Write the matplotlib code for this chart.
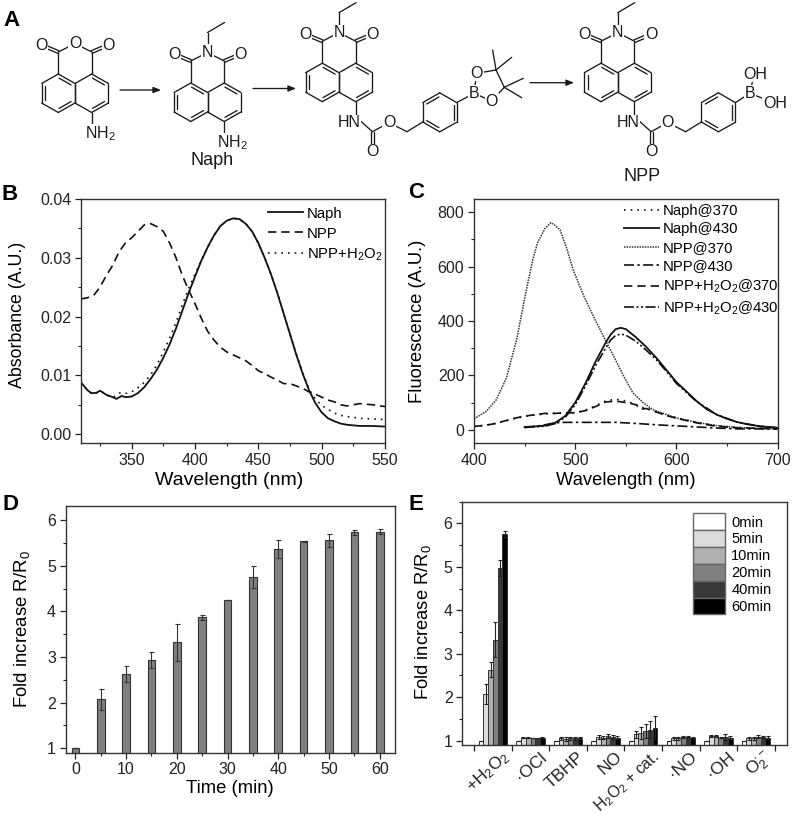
import matplotlib
matplotlib.use("Agg")
import matplotlib.pyplot as plt
import numpy as np
from matplotlib.transforms import Affine2D, ScaledTranslation
from matplotlib.ticker import MultipleLocator
from matplotlib.patches import Patch

plt.rcParams['font.family'] = ['Liberation Sans', 'DejaVu Sans']
plt.rcParams['mathtext.default'] = 'regular'
plt.rcParams['axes.linewidth'] = 1.0
plt.rcParams['axes.edgecolor'] = '#333333'
plt.rcParams['xtick.color'] = '#222222'
plt.rcParams['ytick.color'] = '#222222'

W, H = 800, 817

# panel B
wl_b_naph = [310, 315, 318, 322, 325, 330, 335, 338, 342, 345, 350, 355, 360, 365, 370, 375, 380, 385, 390, 395, 400,
             405, 410, 415, 420, 425, 430, 435, 440, 445, 450, 455, 460, 465, 470, 475, 480, 485, 490, 495, 500, 505,
             510, 515, 520, 530, 540, 550]
abs_naph = [.0088, .0075, .0070, .0070, .0074, .0067, .0063, .0060, .0065, .0063, .0064, .0070, .0080, .0094, .0110,
            .0130, .0153, .0180, .0210, .0240, .0268, .0295, .0318, .0338, .0354, .0363, .0367, .0366, .0358, .0345,
            .0325, .0300, .0272, .0240, .0205, .0170, .0135, .0103, .0075, .0053, .0037, .0027, .0022, .0018, .0016,
            .0014, .0014, .0013]
wl_b_npp = [310, 315, 320, 325, 330, 335, 340, 345, 350, 355, 360, 365, 370, 375, 380, 385, 390, 395, 400, 405, 410,
            415, 420, 425, 430, 435, 440, 445, 450, 455, 460, 465, 470, 475, 480, 485, 490, 495, 500, 505, 510, 515,
            520, 525, 530, 535, 540, 550]
abs_npp = [.0230, .0232, .0236, .0250, .0270, .0287, .0310, .0325, .0334, .0345, .0356, .0358, .0353, .0345, .0325,
           .0300, .0270, .0245, .0222, .0197, .0175, .0160, .0148, .0140, .0135, .0130, .0125, .0117, .0108, .0103,
           .0097, .0092, .0086, .0086, .0082, .0078, .0072, .0068, .0063, .0058, .0055, .0050, .0048, .0050, .0052,
           .0051, .0050, .0047]
wl_b_h2o2 = [310, 315, 318, 322, 325, 330, 335, 340, 345, 350, 355, 360, 365, 370, 375, 380, 385, 390, 395, 400, 405,
             410, 415, 420, 425, 430, 435, 440, 445, 450, 455, 460, 465, 470, 475, 480, 485, 490, 495, 500, 505, 510,
             515, 520, 530, 540, 550]
abs_h2o2 = [.0088, .0075, .0070, .0070, .0074, .0067, .0062, .0070, .0069, .0072, .0079, .0088, .0101, .0118, .0140,
            .0163, .0190, .0220, .0248, .0272, .0296, .0318, .0338, .0354, .0363, .0367, .0366, .0358, .0345, .0325,
            .0300, .0272, .0240, .0205, .0170, .0136, .0105, .0076, .0060, .0049, .0042, .0036, .0032, .0030, .0027,
            .0026, .0025]

# panel C
wl_c_npp370 = [400, 412, 422, 432, 442, 452, 458, 463, 470, 476, 480, 485, 491, 498, 508, 518, 528, 538, 548, 557, 567,
               577, 600, 620, 640, 660, 680, 700]
fl_npp370 = [40, 67, 110, 190, 330, 520, 625, 690, 740, 762, 752, 735, 674, 588, 496, 417, 343, 270, 196, 135, 100, 73,
             43, 27, 15, 8, 5, 3]
wl_c_naph430 = [450, 460, 470, 480, 490, 500, 510, 520, 530, 535, 540, 545, 550, 560, 570, 580, 590, 600, 610, 620, 630,
                640, 650, 660, 670, 680, 690, 700]
fl_naph430 = [10, 12, 15, 25, 50, 100, 170, 250, 320, 350, 370, 375, 370, 340, 305, 265, 220, 175, 140, 105, 75, 55, 40,
              28, 20, 14, 10, 7]
wl_c_h2o2430 = [450, 470, 480, 490, 500, 510, 520, 530, 535, 540, 545, 550, 560, 570, 580, 590, 600, 620, 640, 660, 680,
                700]
fl_h2o2430 = [8, 13, 22, 45, 92, 160, 235, 300, 330, 347, 352, 348, 325, 293, 258, 215, 170, 103, 55, 28, 14, 7]
wl_c_npp430 = [450, 460, 470, 480, 490, 500, 520, 540, 560, 580, 600, 620, 640, 660, 680, 700]
fl_npp430 = [8, 12, 18, 25, 27, 27, 27, 27, 23, 18, 14, 10, 6, 3, 3, 2]
wl_c_370 = [400, 410, 420, 430, 440, 450, 460, 470, 480, 490, 500, 510, 520, 530, 540, 550, 560, 565, 570, 580, 590,
            600, 620, 640, 660, 680, 700]
fl_h2o2370 = [12, 15, 22, 32, 42, 50, 55, 60, 60, 62, 62, 70, 85, 102, 105, 100, 92, 75, 78, 65, 52, 42, 25, 12, 7, 5, 4]
fl_naph370 = [13, 16, 22, 31, 41, 49, 54, 58, 60, 62, 63, 72, 88, 106, 112, 106, 92, 82, 80, 66, 54, 44, 27, 14, 8, 5, 4]

# panel D
time_min = [0, 5, 10, 15, 20, 25, 30, 35, 40, 45, 50, 55, 60]
fold = [1.0, 2.07, 2.63, 2.93, 3.32, 3.87, 4.25, 4.75, 5.37, 5.54, 5.56, 5.73, 5.75]
fold_err = [0, .23, .17, .17, .40, .06, 0, .24, .19, .01, .14, .06, .06]

# panel E
species = ['+H$_2$O$_2$', '·OCl', 'TBHP', 'NO', 'H$_2$O$_2$ + cat.', '·NO', '·OH', r'O$_2^{\cdot -}$']
times = ['0min', '5min', '10min', '20min', '40min', '60min']
vals_0 = [1, 1, 1, 1, 1, 1, 1, 1]
vals_5 = [2.07, 1.07, 1.05, 1.08, 1.15, 1.05, 1.10, 1.05]
vals_10 = [2.63, 1.07, 1.04, 1.07, 1.17, 1.05, 1.10, 1.05]
vals_20 = [3.32, 1.06, 1.05, 1.10, 1.22, 1.08, 1.07, 1.09]
vals_40 = [4.97, 1.06, 1.05, 1.08, 1.25, 1.08, 1.09, 1.08]
vals_60 = [5.75, 1.07, 1.06, 1.07, 1.30, 1.07, 1.07, 1.07]
errs_0 = [0, 0, 0, 0, 0, 0, 0, 0]
errs_5 = [.23, .01, .04, .04, .08, .04, .02, .04]
errs_10 = [.17, .01, .04, .04, .14, .04, .02, .04]
errs_20 = [.40, .01, .04, .05, .17, .03, .02, .03]
errs_40 = [.18, .01, .04, .04, .20, .03, .07, .03]
errs_60 = [.07, .01, .02, .03, .26, .02, .03, .03]
colors_e = ['#ffffff', '#dcdcdc', '#b0b0b0', '#808080', '#383838', '#000000']

fig = plt.figure(figsize=(W / 100, H / 100), dpi=100)
pix = Affine2D().scale(1 / W, -1 / H).translate(0, 1) + fig.transFigure


def panel(l, t, r, b):
    return fig.add_axes([l / W, 1 - b / H, (r - l) / W, (b - t) / H])


def style(ax, xlabel, ylabel, xl_pos, yl_pos, xl_size=14, yl_size=13):
    ax.tick_params(which='major', direction='out', length=4, width=0.9, labelsize=11.5, pad=3)
    ax.tick_params(which='minor', direction='out', length=2.2, width=0.8)
    ax.set_xlabel(xlabel, fontsize=xl_size, va='center')
    ax.set_ylabel(ylabel, fontsize=yl_size, va='center')
    ax.xaxis.set_label_coords(xl_pos[0], xl_pos[1], transform=pix)
    ax.yaxis.set_label_coords(yl_pos[0], yl_pos[1], transform=pix)


# B
ax = panel(81, 199, 385, 443)
ax.plot(wl_b_naph, abs_naph, color='#111111', lw=1.3, label='Naph')
ax.plot(wl_b_npp, abs_npp, color='#111111', lw=1.2, ls=(0, (5, 3)), label='NPP')
ax.plot(wl_b_h2o2, abs_h2o2, color='#111111', lw=1.2, ls=(0, (1, 3)), label='NPP+H$_2$O$_2$')
ax.set_xlim(310, 550)
ax.set_ylim(-0.0015, 0.04)
ax.set_xticks([350, 400, 450, 500, 550])
ax.set_yticks([0, .01, .02, .03, .04])
ax.set_yticklabels(['0.00', '0.01', '0.02', '0.03', '0.04'])
ax.xaxis.set_minor_locator(MultipleLocator(25))
ax.yaxis.set_minor_locator(MultipleLocator(.005))
style(ax, 'Wavelength (nm)', 'Absorbance (A.U.)', (229, 481), (18, 315), 14, 12.8)
ax.legend(loc='upper left', bbox_to_anchor=(0.615, 0.969), frameon=False, fontsize=10.7, handlelength=2.35,
          handletextpad=0.25, labelspacing=0.4, borderpad=0, borderaxespad=0)

# C
ax = panel(474, 199, 777.7, 443)
ax.plot(wl_c_370, fl_naph370, color='#111111', lw=1.2, ls=(0, (1, 3)), label='Naph@370')
ax.plot(wl_c_naph430, fl_naph430, color='#111111', lw=1.3, label='Naph@430')
ax.plot(wl_c_npp370, fl_npp370, color='#333333', lw=1.1, ls=(0, (1, 0.7)), label='NPP@370')
ax.plot(wl_c_npp430, fl_npp430, color='#111111', lw=1.2, ls=(0, (6, 2, 1.5, 2)), label='NPP@430')
ax.plot(wl_c_370, fl_h2o2370, color='#111111', lw=1.2, ls=(0, (5, 3)), label='NPP+H$_2$O$_2$@370')
ax.plot(wl_c_h2o2430, fl_h2o2430, color='#111111', lw=1.2, ls=(0, (6, 1.5, 1.2, 1.5, 1.2, 1.5)),
        label='NPP+H$_2$O$_2$@430')
ax.set_xlim(400, 700)
ax.set_ylim(-49, 849)
ax.set_xticks([400, 500, 600, 700])
ax.set_yticks([0, 200, 400, 600, 800])
ax.xaxis.set_minor_locator(MultipleLocator(50))
ax.yaxis.set_minor_locator(MultipleLocator(100))
style(ax, 'Wavelength (nm)', 'Fluorescence (A.U.)', (626, 481), (418, 321), 13.2, 13.2)
ax.legend(loc='upper left', bbox_to_anchor=(0.495, 0.98), frameon=False, fontsize=10.7, handlelength=2.35,
          handletextpad=0.25, labelspacing=0.3, borderpad=0, borderaxespad=0)

# D
ax = panel(65.7, 506, 395, 752.7)
ax.bar(time_min, fold, width=1.5, color='#808080', edgecolor='#333333', lw=0.8)
ax.errorbar(time_min, fold, yerr=fold_err, fmt='none', ecolor='#333333', elinewidth=0.8, capsize=1.8, capthick=0.8)
ax.set_xlim(-1.9, 63)
ax.set_ylim(0.9, 6.31)
ax.set_xticks(range(0, 61, 10))
ax.set_yticks(range(1, 7))
ax.xaxis.set_minor_locator(MultipleLocator(5))
ax.yaxis.set_minor_locator(MultipleLocator(.5))
style(ax, 'Time (min)', 'Fold increase R/R$_0$', (230, 789), (22, 629), 13.3, 13.4)

# E
ax = panel(462.3, 501.7, 786.7, 745)
all_vals = [vals_0, vals_5, vals_10, vals_20, vals_40, vals_60]
all_errs = [errs_0, errs_5, errs_10, errs_20, errs_40, errs_60]
x = np.arange(len(species))
w = 0.126
for j in range(6):
    xs = x + (j - 2.5) * w
    ax.bar(xs, all_vals[j], width=w, color=colors_e[j], edgecolor='#333333', lw=0.7)
    ax.errorbar(xs, all_vals[j], yerr=all_errs[j], fmt='none', ecolor='#222222', elinewidth=0.8, capsize=1.6,
                capthick=0.8)
ax.set_xlim(-0.816, 7.82)
ax.set_ylim(0.9, 6.5)
ax.set_xticks(np.arange(len(species) + 1) - 0.5)
ax.set_xticklabels([])
ax.set_xticks(x, species, minor=True)
ax.set_yticks(range(1, 7))
ax.yaxis.set_minor_locator(MultipleLocator(.5))
style(ax, '', 'Fold increase R/R$_0$', (0, 0), (423, 622), 14, 13.2)
ax.tick_params(axis='x', which='minor', length=0, labelsize=12.5, pad=7)
for lab in ax.get_xticklabels(minor=True):
    lab.set_rotation(42)
    lab.set_ha('right')
    lab.set_va('center')
    lab.set_rotation_mode('anchor')
    lab.set_transform(lab.get_transform() + ScaledTranslation(14 / 100, 0, fig.dpi_scale_trans))
ax.get_xticklabels(minor=True)[4].set_fontsize(11.3)
ax.legend(handles=[Patch(facecolor=c, edgecolor='#666666', lw=1, label=t) for c, t in zip(colors_e, times)],
          loc='upper left', bbox_to_anchor=(0.71, 0.952), frameon=False, fontsize=10.5, handlelength=2.2,
          handleheight=1.4, handletextpad=0.45, labelspacing=0, borderpad=0, borderaxespad=0)

for letter, lx, ly in [('A', 11, 21), ('B', 10, 195), ('C', 416, 193), ('D', 10, 504), ('E', 416, 505)]:
    fig.text(lx / W, 1 - ly / H, letter, fontsize=16, fontweight='bold', ha='center', va='center', color='black')

# A : the reaction scheme, drawn in picture pixels
sch = fig.add_axes([0, 0, 1, 1], zorder=5)
sch.set_xlim(0, W)
sch.set_ylim(H, 0)
sch.axis('off')
ink = '#1a1a1a'


def bond(p, q):
    sch.plot([p[0], q[0]], [p[1], q[1]], color=ink, lw=0.95, solid_capstyle='round', zorder=1)


def inner(p, q, c):
    p, q, c = np.array(p, float), np.array(q, float), np.array(c, float)
    m = (p + q) / 2
    v = (c - m) / np.linalg.norm(c - m) * 3.2
    bond(p + (q - p) * 0.14 + v, q - (q - p) * 0.14 + v)


def dbl(p, q):
    p, q = np.array(p, float), np.array(q, float)
    d = q - p
    n = np.array([-d[1], d[0]]) / np.linalg.norm(d) * 1.4
    bond(p + n, q + n)
    bond(p - n, q - n)


def atom(p, s, fs=11.5):
    sch.text(p[0], p[1], s, fontsize=fs, ha='center', va='center', color=ink, zorder=3,
             bbox=dict(fc='white', ec='none', pad=0.5))


def ring(pts):
    for i in range(len(pts)):
        bond(pts[i], pts[(i + 1) % len(pts)])


def naphthalene(cx, cy, amine_len):
    # cx, cy : top atom of the fused bond
    dx, dy, s = 16.7, 9.5, 19.5
    ft, fb = (cx, cy), (cx, cy + s)
    lt, ltl, lbl, lb = (cx - dx, cy - dy), (cx - 2 * dx, cy), (cx - 2 * dx, cy + s), (cx - dx, cy + s + dy)
    rt, rtr, rbr, rb = (cx + dx, cy - dy), (cx + 2 * dx, cy), (cx + 2 * dx, cy + s), (cx + dx, cy + s + dy)
    ring([ft, lt, ltl, lbl, lb, fb])
    ring([ft, rt, rtr, rbr, rb, fb])
    lc, rc = (cx - dx, cy + s / 2), (cx + dx, cy + s / 2)
    inner(lt, ft, lc)
    inner(ltl, lbl, lc)
    inner(lb, fb, lc)
    inner(rt, rtr, rc)
    inner(rbr, rb, rc)
    ca, cb = (cx - dx, cy - dy - 22), (cx + dx, cy - dy - 22)
    bond(lt, ca)
    bond(rt, cb)
    top = (cx, cy - dy - 30.5)
    bond(ca, top)
    bond(cb, top)
    ol, orr = (ca[0] - 16.7, ca[1] - 7), (cb[0] + 16.7, cb[1] - 7)
    dbl(ca, ol)
    dbl(cb, orr)
    atom(ol, 'O')
    atom(orr, 'O')
    bond(rb, (rb[0], rb[1] + amine_len))
    return top, rb


def ethyl_n(top):
    bond(top, (top[0], top[1] - 20))
    bond((top[0], top[1] - 20), (top[0] + 17, top[1] - 30))
    atom(top, 'N')


def carbamate(rb):
    # carbamate linker and benzene ring, as offsets from the ring carbon that carries the NH
    hn = (rb[0], rb[1] + 15)
    c = (hn[0] + 16.7, hn[1] + 15)
    o = (hn[0] + 33.3, hn[1] + 6)
    ch2 = (hn[0] + 51.3, hn[1] + 15)
    rx, ry = hn[0] + 84, hn[1] - 4.4
    bond(hn, c)
    bond(c, o)
    bond(o, ch2)
    dbl(c, (c[0], c[1] + 20))
    atom((hn[0] - 6.7, hn[1] + 6), 'HN')
    atom((c[0], c[1] + 20), 'O')
    atom(o, 'O')
    pts = [(rx, ry - 19.5), (rx + 17, ry - 9.7), (rx + 17, ry + 10), (rx, ry + 19.5), (rx - 17, ry + 9.7),
           (rx - 17, ry - 9.7)]
    ring(pts)
    bond(ch2, pts[4])
    for i, k in [(5, 0), (1, 2), (3, 4)]:
        inner(pts[i], pts[k], (rx, ry))
    return pts[1]


# anhydride
top, rb = naphthalene(75, 83.5, 13)
atom(top, 'O')
atom((rb[0] + 8.3, rb[1] + 21), 'NH$_2$')

# Naph
top, rb = naphthalene(207.5, 92.5, 13)
ethyl_n(top)
atom((rb[0] + 8.3, rb[1] + 21), 'NH$_2$')
sch.text(212, 160, 'Naph', fontsize=13, ha='center', va='center', color=ink)

# protected intermediate
top, rb = naphthalene(339, 72.7, 15)
ethyl_n(top)
ar = carbamate(rb)
b = (474, 93.3)
bond(ar, b)
o1, o2 = (476.7, 73.3), (491.7, 101)
c1, c2 = (496, 70), (504.3, 87.3)
for p, q in [(b, o1), (b, o2), (o1, c1), (o2, c2), (c1, c2)]:
    bond(p, q)
atom(b, 'B')
atom(o1, 'O')
atom(o2, 'O')
for p, q in [(c1, (492.7, 50)), (c1, (511.7, 57.3)), (c2, (523.3, 78.3)), (c2, (521.7, 97.7))]:
    bond(p, q)

# NPP
top, rb = naphthalene(617.7, 72.7, 15)
ethyl_n(top)
ar = carbamate(rb)
b = (750, 93.3)
bond(ar, b)
bond(b, (754, 74))
bond(b, (775, 103.3))
atom(b, 'B')
atom((755, 74), 'OH')
atom((775, 103.3), 'OH')
sch.text(641.7, 176.7, 'NPP', fontsize=13, ha='center', va='center', color=ink)

# arrows
for x0, x1, y0 in [(120, 161, 90), (253, 296, 88.5), (530, 574, 82.7)]:
    sch.annotate('', xy=(x1, y0), xytext=(x0, y0),
                 arrowprops=dict(arrowstyle='-|>,head_length=0.45,head_width=0.18', color=ink, lw=0.95,
                                 shrinkA=0, shrinkB=0))

fig.savefig('out.png', dpi=100)
